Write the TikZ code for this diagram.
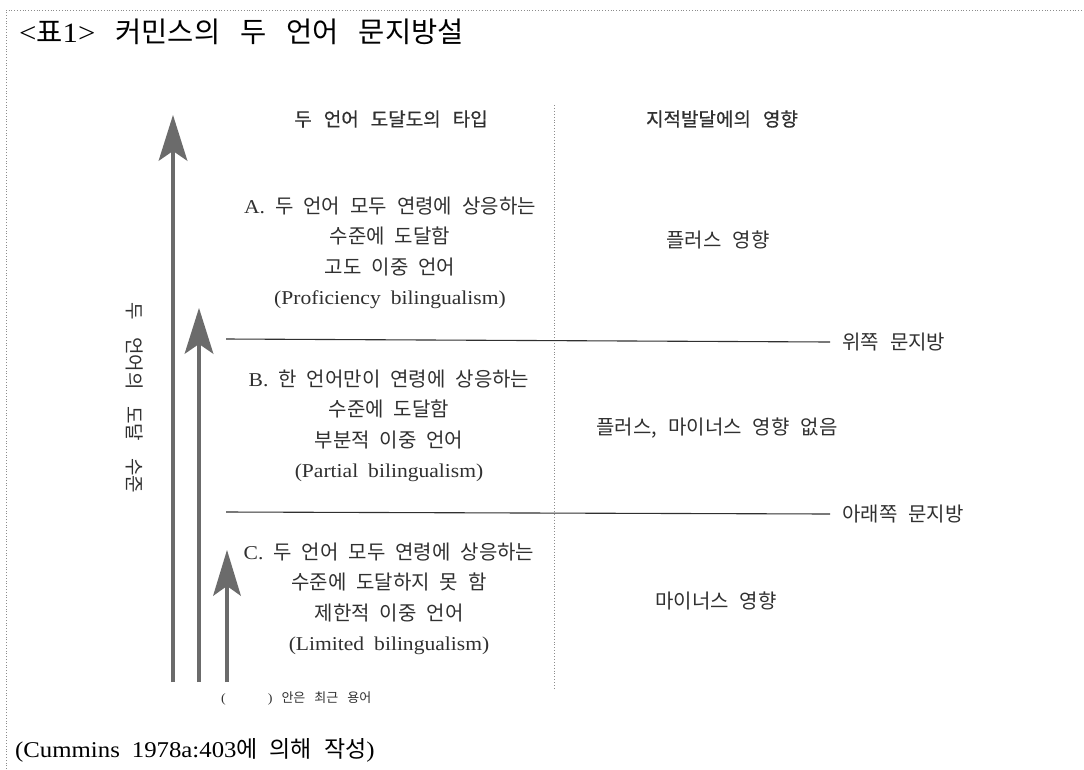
\documentclass[tikz,border=0pt]{standalone}
\usepackage{fontspec}
\setmainfont{Liberation Serif}
\newfontfamily\ko{Noto Sans CJK KR}
\newfontfamily\kob{Noto Sans CJK KR}[FakeBold=0.6]
\newfontfamily\lat{Liberation Serif}[FakeStretch=1.1, Scale=0.98]
\usetikzlibrary{arrows.meta}
\definecolor{ink}{HTML}{303030}
\definecolor{arrowgray}{HTML}{6B6B6B}
\definecolor{bordergray}{HTML}{8C8C8C}
\newcommand\wsp[1]{\spaceskip=#1\relax\xspaceskip=#1\relax}
\tikzset{
  txt/.style={inner sep=0pt, text=ink, font=\ko},
  bodytxt/.style={txt, align=center, font=\ko\fontsize{20}{30.5}\selectfont\wsp{10pt}},
  headtxt/.style={txt, font=\kob\fontsize{19}{22}\selectfont\wsp{12pt}},
  sidetxt/.style={txt, font=\ko\fontsize{20}{24}\selectfont\wsp{11pt}},
  lvlarrow/.style={draw=arrowgray, line width=4pt,
    -{Stealth[length=46pt, width=29pt, inset=10pt, line width=0pt, fill=arrowgray]}},
  threshold/.style={draw=ink, line width=1.1pt},
  sepline/.style={draw=bordergray, dotted, line width=0.9pt},
  frame/.style={draw=bordergray, dotted, line width=0.8pt}
}
\begin{document}
\begin{tikzpicture}[x=1pt, y=-1pt]
\useasboundingbox (0,0) rectangle (1084,769);
\fill[white] (0,0) rectangle (1084,769);

% frame
\coordinate (fbl) at (6,769);
\coordinate (ftl) at (6,10);
\coordinate (ftr) at (1084,10);
\draw[frame] (fbl) -- (ftl) -- (ftr);

% title
\node[txt, text=black, anchor=west, font=\ko\fontsize{28.5}{32}\selectfont\wsp{20pt}] (title) at (19,32)
  {{\lat <}표{\lat 1>} 커민스의 두 언어 문지방설};

% headers
\node[headtxt] (h1) at (391,119) {두 언어 도달도의 타입};
\node[headtxt] (h2) at (722,119) {지적발달에의 영향};

% vertical separator
\coordinate (s1) at (554,105);
\coordinate (s2) at (554,688);
\draw[sepline] (s1) -- (s2);

% arrows
\coordinate (a1b) at (173,682); \coordinate (a1t) at (173,115);
\coordinate (a2b) at (199,682); \coordinate (a2t) at (199,308);
\coordinate (a3b) at (227,682); \coordinate (a3t) at (227,550);
\draw[lvlarrow] (a1b) -- (a1t);
\draw[lvlarrow] (a2b) -- (a2t);
\draw[lvlarrow, -{Stealth[length=46pt, width=28pt, inset=10pt, line width=0pt, fill=arrowgray]}] (a3b) -- (a3t);

% vertical axis label
\node[txt, rotate=-90, font=\ko\fontsize{19}{22}\selectfont\wsp{17pt}] (vlab) at (135,398) {두 언어의 도달 수준};

% threshold lines
\node[sidetxt, anchor=west] (up) at (842,342) {위쪽 문지방};
\node[sidetxt, anchor=west] (low) at (842,514) {아래쪽 문지방};
\coordinate (u0) at (226,339); \coordinate (u1) at (830,342);
\coordinate (l0) at (226,512); \coordinate (l1) at (830,514);
\draw[threshold] (u0) -- (u1);
\draw[threshold] (l0) -- (l1);

% type blocks
\node[bodytxt] (A) at (390,253)
  {{\lat A.} 두 언어 모두 연령에 상응하는\\ 수준에 도달함\\ 고도 이중 언어\\ {\lat (Proficiency bilingualism)}};
\node[bodytxt] (B) at (389,426)
  {{\lat B.} 한 언어만이 연령에 상응하는\\ 수준에 도달함\\ 부분적 이중 언어\\ {\lat (Partial bilingualism)}};
\node[bodytxt] (C) at (389,599)
  {{\lat C.} 두 언어 모두 연령에 상응하는\\ 수준에 도달하지 못 함\\ 제한적 이중 언어\\ {\lat (Limited bilingualism)}};

% effects
\node[sidetxt] (eA) at (718,240) {플러스 영향};
\node[sidetxt] (eB) at (717,428) {플러스, 마이너스 영향 없음};
\node[sidetxt] (eC) at (716,601) {마이너스 영향};

% note
\node[txt, anchor=west, font=\ko\fontsize{13}{15}\selectfont\wsp{9pt}] (note) at (221,698)
  {{\lat (}\hspace{42pt}{\lat )} 안은 최근 용어};

% source
\node[txt, text=black, anchor=west, font=\ko\fontsize{23}{26}\selectfont\wsp{12pt}] (src) at (15,750)
  {{\lat (Cummins 1978a:403}에 의해 작성{\lat )}};
\end{tikzpicture}
\end{document}
